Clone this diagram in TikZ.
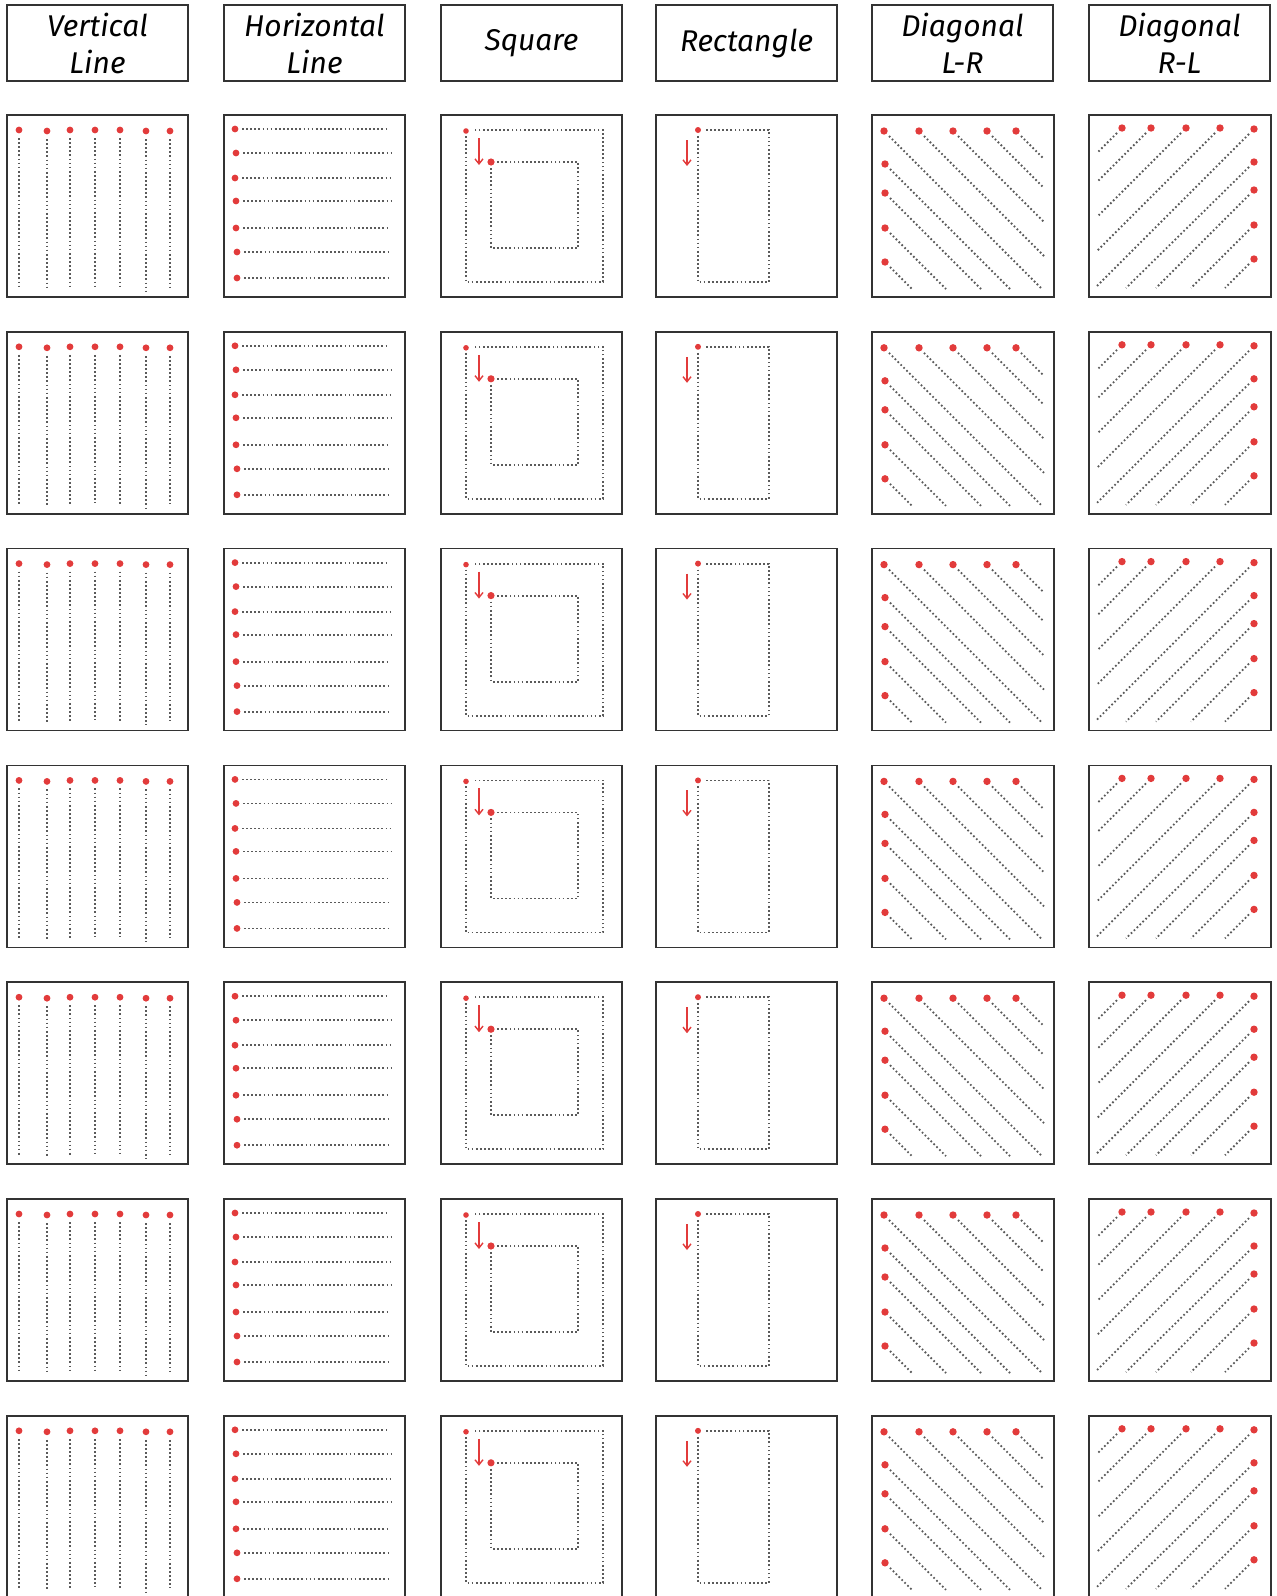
\documentclass[tikz,border=0pt]{standalone}
\usepackage{fontspec}
\setmainfont{Fira Sans}
\usetikzlibrary{arrows.meta}
\definecolor{dotred}{HTML}{E23B3B}
\definecolor{dotgray}{HTML}{5A5A5A}
\definecolor{framec}{HTML}{333333}
\tikzset{
  panel/.style={draw=framec, line width=1.5pt},
  hdr/.style={draw=framec, line width=1.5pt, minimum width=181pt, minimum height=76pt,
    inner sep=0pt, align=center, font=\fontsize{30}{37}\selectfont\itshape},
  dotline/.style={draw=dotgray, line width=1.8pt, dash pattern=on 1.7pt off 2.4pt},
  redarrow/.style={draw=dotred, line width=1.4pt, -{Straight Barb[length=5pt,width=8pt]}},
}
\newcommand\rdot[3]{\fill[dotred] (#1,#2) circle (#3pt);}
\begin{document}
\begin{tikzpicture}[x=1pt,y=-1pt]
\useasboundingbox (0,0) rectangle (1277,1596);
\clip (0,0) rectangle (1277,1596);
% headers
\node[hdr] (h1) at (97.5,43) {Vertical\\Line};
\node[hdr] (h2) at (314.5,43) {Horizontal\\Line};
\node[hdr] (h3) at (531.5,43) {Square};
\node[hdr] (h4) at (746.5,43) {Rectangle};
\node[hdr] (h5) at (962.5,43) {Diagonal\\L-R};
\node[hdr] (h6) at (1179.5,43) {Diagonal\\R-L};
\foreach \r in {0,...,6}{
  \pgfmathsetmacro\ry{115+\r*216.8}
  % vertical lines
  \begin{scope}[shift={(7,\ry)}]
    \draw[panel] (0,0) rectangle (181,182);
    \foreach \x/\y/\e in {12/15/174,40/16/174,63/15/173,88/15/171,113/15/172,139/16/176,163/16/172}{
      \draw[dotline] (\x,\y+8) -- (\x,\e);
      \rdot{\x}{\y}{3.4}
    }
  \end{scope}
  % horizontal lines
  \begin{scope}[shift={(224,\ry)}]
    \draw[panel] (0,0) rectangle (181,182);
    \foreach \x/\y/\e in {11/14/164,12/38/169,11/63/166,12/86/167,12/113/165,13/137/166,13/163/166}{
      \draw[dotline] (\x+7,\y) -- (\e,\y);
      \rdot{\x}{\y}{3.4}
    }
  \end{scope}
  % square
  \begin{scope}[shift={(441,\ry)}]
    \draw[panel] (0,0) rectangle (181,182);
    \draw[dotline] (25,21) -- (25,167) -- (162,167) -- (162,15) -- (32,15);
    \rdot{25}{16}{2.8}
    \draw[dotline] (50,53) -- (50,133) -- (137,133) -- (137,47) -- (56,47);
    \rdot{50}{47}{3.6}
    \draw[redarrow] (38,23) -- (38,50);
  \end{scope}
  % rectangle
  \begin{scope}[shift={(656,\ry)}]
    \draw[panel] (0,0) rectangle (181,182);
    \draw[dotline] (42,21) -- (42,167) -- (113,167) -- (113,15) -- (48,15);
    \rdot{42}{15}{3}
    \draw[redarrow] (31,25) -- (31,51);
  \end{scope}
  % diagonal L-R
  \begin{scope}[shift={(872,\ry)}]
    \draw[panel] (0,0) rectangle (182,182);
    \foreach \x/\y/\ex/\ey in {12/16/170/174,47/16/172/141,81/16/172/107,115/16/172/73,144/16/172/44,13/49/138/174,13/78/109/174,13/113/74/174,13/147/40/174}{
      \draw[dotline] (\x+5,\y+5) -- (\ex,\ey);
      \rdot{\x}{\y}{3.7}
    }
  \end{scope}
  % diagonal R-L
  \begin{scope}[shift={(1089,\ry)}]
    \draw[panel] (0,0) rectangle (182,182);
    \foreach \x/\y/\ex/\ey in {33/13/8/38,62/13/8/67,97/13/8/102,131/13/8/136,165/14/8/171,165/47/37/173,165/75/67/173,165/110/102/173,165/144/136/173}{
      \draw[dotline] (\x-5,\y+5) -- (\ex,\ey);
      \rdot{\x}{\y}{3.7}
    }
  \end{scope}
}
\end{tikzpicture}
\end{document}
